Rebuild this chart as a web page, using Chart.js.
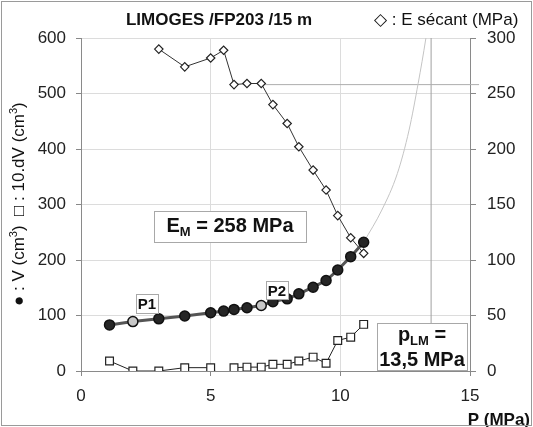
<!DOCTYPE html>
<html><head><meta charset="utf-8">
<script src="https://cdn.jsdelivr.net/npm/chart.js@4.4.0/dist/chart.umd.min.js"></script>
<style>html,body{margin:0;padding:0;background:#fff;overflow:hidden}#wrap{width:533px;height:427px;position:relative}</style>
</head><body><div id="wrap"><canvas id="c"></canvas></div>
<script>
// ---- data ----
const pressure  = [1.1, 2.0, 3.0, 4.0, 5.0, 5.5, 5.9, 6.4, 6.95, 7.4, 7.95, 8.4, 8.95, 9.45, 9.9, 10.4, 10.9];
const volume    = [83, 89, 94, 99, 105, 108, 111, 114, 118, 125, 130, 139, 151, 163, 182, 206, 232];
const dVolume10 = [18, 0, 0, 6, 6, -12, 6, 7, 7, 12, 12, 18, 25, 14, 55, 61, 84];
const eSecant   = [null, null, 290, 274, 282, 289, 258, 259, 259, 240, 223, 202, 181, 163, 140, 120, 106];
const fitP      = [10.9, 11.6, 12.2, 12.65, 13.0, 13.3, 13.45];
const fitV      = [232, 290, 356, 434, 518, 600, 650];
const EM_VALUE  = 258;
const EM_FROM_P = 6.95;
const PLM_VALUE = 13.5;
const P1_INDEX = 1, P2_INDEX = 8;
const xTickValues = [0, 5, 10, 15];
const yTickValues = [0, 100, 200, 300, 400, 500, 600];
const y2TickValues = [0, 50, 100, 150, 200, 250, 300];

const FONT = '"Liberation Sans", Arial, Helvetica, sans-serif';
const pts = (xs, ys) => xs.map((x, i) => ({x, y: ys[i]})).filter(p => p.y !== null);

function drawRich(ctx, parts, x, y, align) {
  let w = 0;
  parts.forEach(p => { ctx.font = (p[2] ? 'bold ' : '') + p[1] + 'px ' + FONT; w += ctx.measureText(p[0]).width; });
  let cx = align === 'center' ? x - w / 2 : (align === 'right' ? x - w : x);
  ctx.textAlign = 'left'; ctx.textBaseline = 'alphabetic';
  parts.forEach(p => { ctx.font = (p[2] ? 'bold ' : '') + p[1] + 'px ' + FONT; ctx.fillText(p[0], cx, y + (p[3] || 0)); cx += ctx.measureText(p[0]).width; });
}
function box(ctx, x0, y0, x1, y1) {
  ctx.save(); ctx.fillStyle = '#fff'; ctx.strokeStyle = '#a8a8a8'; ctx.lineWidth = 1;
  ctx.fillRect(x0, y0, x1 - x0, y1 - y0); ctx.strokeRect(x0 + 0.5, y0 + 0.5, x1 - x0, y1 - y0); ctx.restore();
}

const decor = {
  id: 'decor',
  afterDatasetsDraw(chart) {
    const ctx = chart.ctx; ctx.save(); ctx.fillStyle = '#111';
    box(ctx, 154, 211, 306, 242);
    drawRich(ctx, [['E', 20, true], ['M', 13, true, 4], [' = 258 MPa', 20, true]], 230, 232, 'center');
    box(ctx, 136, 294, 158, 313);
    drawRich(ctx, [['P1', 15, true]], 147, 309, 'center');
    box(ctx, 266, 281, 288, 299);
    drawRich(ctx, [['P2', 15, true]], 277, 296, 'center');
    box(ctx, 377, 323, 467, 370);
    drawRich(ctx, [['p', 20, true], ['LM', 13, true, 4], [' =', 20, true]], 422, 341, 'center');
    drawRich(ctx, [['13,5 MPa', 20, true]], 422, 366, 'center');
    ctx.restore();
  },
  afterDraw(chart) {
    const ctx = chart.ctx; ctx.save(); ctx.fillStyle = '#111';
    drawRich(ctx, [['LIMOGES /FP203 /15 m', 17, true]], 219, 25, 'center');
    drawRich(ctx, [['\u25C7 : E s\u00e9cant (MPa)', 17, false]], 374, 25, 'left');
    drawRich(ctx, [['P (MPa)', 17, true]], 530, 425, 'right');
    ctx.translate(24, 306); ctx.rotate(-Math.PI / 2);
    drawRich(ctx, [['\u25CF : V (cm', 17, false], ['3', 11, false, -7], [')  \u25A1 : 10.dV (cm', 17, false], ['3', 11, false, -7], [')', 17, false]], 0, 0, 'left');
    ctx.restore();
    ctx.save(); ctx.strokeStyle = '#9a9a9a'; ctx.lineWidth = 1; ctx.strokeRect(1.5, 1.5, 530, 424); ctx.restore();
  }
};

new Chart(document.getElementById('c'), {
  type: 'line',
  data: {
    datasets: [
      { label: 'V', data: pts(pressure, volume), yAxisID: 'y', borderColor: '#555', borderWidth: 3,
        pointRadius: 5, pointBorderWidth: 1.5, pointBorderColor: '#111',
        pointBackgroundColor: c => (c.dataIndex === P1_INDEX || c.dataIndex === P2_INDEX) ? '#c8c8c8' : '#262626', tension: 0 },
      { label: '10.dV', data: pts(pressure, dVolume10), yAxisID: 'y', borderColor: '#222', borderWidth: 1,
        pointStyle: 'rect', pointRadius: c => (c.raw && c.raw.y < 0) ? 0 : 5.5, pointBorderWidth: 1.2,
        pointBorderColor: '#222', pointBackgroundColor: '#fff', tension: 0 },
      { label: 'E secant', data: pts(pressure, eSecant), yAxisID: 'y2', borderColor: '#333', borderWidth: 1,
        pointStyle: 'rectRot', pointRadius: 4.2, pointBorderWidth: 1.2, pointBorderColor: '#222', pointBackgroundColor: '#fff', tension: 0 },
      { label: 'fit', data: pts(fitP, fitV), yAxisID: 'y', borderColor: '#c4c4c4', borderWidth: 1, pointRadius: 0, tension: 0.4, cubicInterpolationMode: 'monotone' },
      { label: 'EM', data: [{x: EM_FROM_P, y: EM_VALUE}, {x: 15.35, y: EM_VALUE}], yAxisID: 'y2', borderColor: '#adadad', borderWidth: 1, pointRadius: 0, clip: false },
      { label: 'pLM', data: [{x: PLM_VALUE, y: 0}, {x: PLM_VALUE, y: 600}], yAxisID: 'y', borderColor: '#a0a0a0', borderWidth: 1, pointRadius: 0 }
    ]
  },
  options: {
    responsive: true, maintainAspectRatio: false, animation: false,
    layout: { padding: { top: 38, left: 0, right: 0, bottom: 0 } },
    plugins: { legend: { display: false }, tooltip: { enabled: false }, title: { display: false } },
    scales: {
      x: { type: 'linear', min: 0, max: 15,
        afterBuildTicks: s => { s.ticks = xTickValues.map(v => ({value: v})); },
        afterFit: s => { s.height = 56; },
        grid: { color: c => (c.tick && (c.tick.value === 0 || c.tick.value === 15)) ? 'rgba(0,0,0,0)' : '#dcdcdc', tickColor: '#888', tickLength: 5, lineWidth: 1 },
        border: { color: '#8a8a8a' },
        ticks: { font: { size: 17, family: FONT }, color: '#222', padding: 10, maxRotation: 0 } },
      y: { position: 'left', min: 0, max: 600,
        afterBuildTicks: s => { s.ticks = yTickValues.map(v => ({value: v})); },
        afterFit: s => { s.width = 81; },
        grid: { color: c => (c.tick && c.tick.value === 0) ? 'rgba(0,0,0,0)' : '#dcdcdc', tickColor: '#888', tickLength: 5 },
        border: { color: '#8a8a8a' },
        ticks: { font: { size: 17, family: FONT }, color: '#222', padding: 10 } },
      y2: { position: 'right', min: 0, max: 300,
        afterBuildTicks: s => { s.ticks = y2TickValues.map(v => ({value: v})); },
        afterFit: s => { s.width = 63; },
        grid: { drawOnChartArea: false, tickColor: '#888', tickLength: 6 },
        border: { color: '#8a8a8a' },
        ticks: { font: { size: 17, family: FONT }, color: '#222', padding: 11 } }
    }
  },
  plugins: [decor]
});
</script></body></html>
